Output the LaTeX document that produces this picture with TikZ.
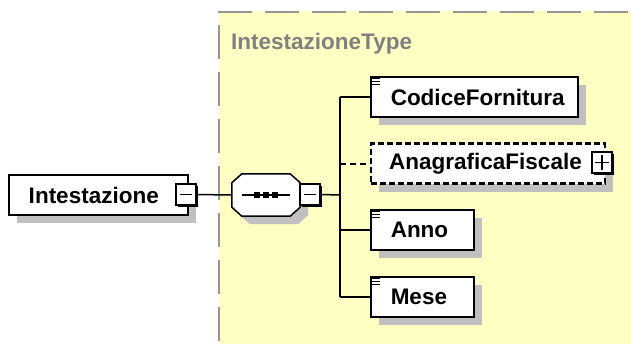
\documentclass[tikz,border=0pt]{standalone}
\usepackage{fontspec}
\setmainfont{Liberation Sans}
\usetikzlibrary{shadows}
\definecolor{bgyellow}{RGB}{255,255,196}
\definecolor{shadowgrey}{RGB}{192,192,192}
\definecolor{typegrey}{RGB}{128,128,128}
\definecolor{dashgrey}{RGB}{150,150,150}
\begin{document}
\begin{tikzpicture}[x=1pt,y=-1pt,
  every node/.style={font=\fontsize{22.5}{26}\selectfont\bfseries},
  elem/.style={draw=black, line width=1.5pt, fill=white, minimum height=40pt, inner xsep=0pt, inner ysep=0pt, align=left, anchor=west,
    drop shadow={shadow xshift=8pt, shadow yshift=-8pt, fill=shadowgrey, opacity=1}},
  optelem/.style={elem, line width=2.4pt, dash pattern=on 6pt off 3pt},
  pmbox/.style={draw=black, line width=1.3pt, fill=white, minimum width=20pt, minimum height=21pt, inner sep=0pt,
    drop shadow={shadow xshift=2.2pt, shadow yshift=-2.2pt, fill=black, opacity=1}},
  conn/.style={draw=black, line width=1.5pt},
  icon/.style={draw=black, line width=1.3pt},
]
\useasboundingbox (0,0) rectangle (631,343);
% type area
\fill[bgyellow] (219,11) rectangle (640,345);
\draw[dashgrey, line width=2pt, dash pattern=on 34pt off 13pt] (218,12) -- (640,12);
\draw[dashgrey, line width=2pt, dash pattern=on 34pt off 13pt] (219,25) -- (219,345);
\node[anchor=base west, text=typegrey, inner sep=0pt] (typelbl) at (231,49) {IntestazioneType};

% root element
\node[elem, text width=179pt] (int) at (8,195) {\hspace*{20pt}Intestazione};
\node[pmbox] (intm) at (186,194.5) {};
\draw[line width=1.3pt] ([xshift=5pt]intm.west) -- ([xshift=-5pt]intm.east);

% sequence compositor
\node[minimum width=68pt, minimum height=42pt, inner sep=0pt] (seq) at (266,195) {};
\fill[shadowgrey]
  ([shift={(18,8)}]seq.north west) -- ([shift={(-2,8)}]seq.north east) -- ([shift={(8,17)}]seq.north east)
  -- ([shift={(8,-1)}]seq.south east) -- ([shift={(-2,8)}]seq.south east) -- ([shift={(18,8)}]seq.south west)
  -- ([shift={(8,-1)}]seq.south west) -- ([shift={(8,17)}]seq.north west) -- cycle;
\filldraw[fill=white, draw=black, line width=1.5pt]
  ([shift={(10,0)}]seq.north west) -- ([shift={(-10,0)}]seq.north east) -- ([shift={(0,9)}]seq.north east)
  -- ([shift={(0,-9)}]seq.south east) -- ([shift={(-10,0)}]seq.south east) -- ([shift={(10,0)}]seq.south west)
  -- ([shift={(0,-9)}]seq.south west) -- ([shift={(0,9)}]seq.north west) -- cycle;
\draw[line width=1.5pt] ([xshift=10pt]seq.west) -- ([xshift=-10pt]seq.east);
\foreach \dx in {-9,0,9} \fill[black] ([xshift=\dx pt]seq.center) +(-3.2,-3.2) rectangle +(3.2,3.2);
\node[pmbox] (seqm) at (310,194.5) {};
\draw[line width=1.3pt] ([xshift=5pt]seqm.west) -- ([xshift=-5pt]seqm.east);

% connectors
\draw[conn] (intm.east) -- (seq.west);
\coordinate (jseq) at (340,195);
\coordinate (jtop) at (340,97);
\coordinate (jaf) at (340,163.5);
\coordinate (janno) at (340,230);
\coordinate (jbot) at (340,297);
\draw[conn] (seqm.east) -- (jseq);
\draw[conn] (jtop) -- (jbot);

% children
\node[elem, text width=207pt] (cf) at (370,97) {\hspace*{20pt}CodiceFornitura};
\node[optelem, text width=234pt] (af) at (370,163.5) {\hspace*{18pt}AnagraficaFiscale};
\node[pmbox] (afp) at (602,162.5) {};
\draw[line width=1.3pt] ([xshift=4pt]afp.west) -- ([xshift=-4pt]afp.east);
\draw[line width=1.3pt] ([yshift=4pt]afp.south) -- ([yshift=-4pt]afp.north);
\node[elem, text width=103pt] (anno) at (370,230) {\hspace*{20pt}Anno};
\node[elem, text width=103pt] (mese) at (370,297) {\hspace*{20pt}Mese};

\draw[conn] (jtop) -- (cf.west);
\draw[conn, line width=2pt, dash pattern=on 6pt off 4pt] (jaf) -- (af.west);
\draw[conn] (janno) -- (anno.west);
\draw[conn] (jbot) -- (mese.west);

% simple-type icons
\foreach \n in {cf,anno,mese} {
  \foreach \dy in {2.5,5.5,8.5}
    \draw[icon] ([shift={(2,\dy)}]\n.north west) -- ([shift={(10,\dy)}]\n.north west);
}
\end{tikzpicture}
\end{document}
